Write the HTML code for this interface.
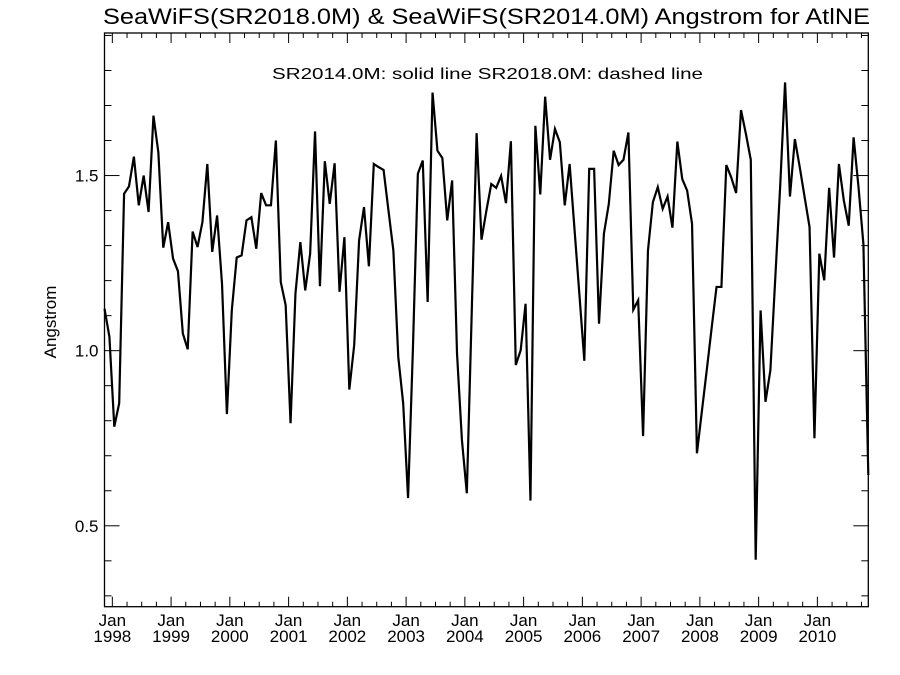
<!DOCTYPE html>
<html><head><meta charset="utf-8"><style>
html,body{margin:0;padding:0;background:#fff;}
svg{display:block;font-family:"Liberation Sans",sans-serif;}
</style></head><body>
<svg id="chart" width="900" height="675" viewBox="0 0 900 675" xmlns="http://www.w3.org/2000/svg">
<rect width="900" height="675" fill="#fff"/>
<text x="103" y="24" font-size="22" textLength="767" lengthAdjust="spacingAndGlyphs">SeaWiFS(SR2018.0M) &amp; SeaWiFS(SR2014.0M)  Angstrom for AtlNE</text>
<text x="272" y="79" font-size="16" textLength="431" lengthAdjust="spacingAndGlyphs">SR2014.0M: solid line   SR2018.0M: dashed line</text>
<text transform="translate(56,322) rotate(-90)" text-anchor="middle" font-size="17">Angstrom</text>
<g id="axes"></g>
<path id="line" fill="none" stroke="#000" stroke-width="2.2" stroke-linejoin="miter"/>
<rect x="104.5" y="33" width="763.8" height="573.7" fill="none" stroke="#000" stroke-width="1.3"/>
</svg>
<script>
const values = [1.12,1.04,0.783,0.85,1.448,1.469,1.554,1.415,1.5,1.396,1.671,1.566,1.294,1.367,1.263,1.227,1.049,1.004,1.34,1.296,
1.367,1.533,1.282,1.386,1.191,0.819,1.115,1.266,1.272,1.372,1.381,1.291,1.45,1.415,1.415,1.6,1.196,1.13,0.793,1.163,
1.31,1.172,1.277,1.626,1.184,1.541,1.419,1.535,1.168,1.324,0.889,1.016,1.315,1.41,1.241,1.533,1.524,1.516,1.4,1.286,
0.982,0.85,0.579,1.01,1.505,1.543,1.139,1.737,1.571,1.55,1.372,1.486,0.992,0.745,0.593,1.107,1.621,1.317,1.4,1.476,
1.465,1.499,1.421,1.598,0.959,1.001,1.134,0.572,1.642,1.446,1.725,1.545,1.633,1.595,1.415,1.533,1.346,1.159,0.971,1.519,
1.519,1.077,1.334,1.419,1.571,1.53,1.545,1.623,1.117,1.144,0.756,1.286,1.424,1.467,1.405,1.44,1.351,1.597,1.49,1.457,
1.362,0.707,0.826,0.944,1.064,1.182,1.182,1.53,1.495,1.45,1.687,1.619,1.545,0.403,1.115,0.854,0.944,1.207,1.469,1.766,
1.44,1.604,1.524,1.438,1.353,0.75,1.277,1.201,1.465,1.266,1.533,1.429,1.357,1.609,1.467,1.305,0.645];
const years = ["1998","1999","2000","2001","2002","2003","2004","2005","2006","2007","2008","2009","2010"];
const yTickLabels = ["0.5","1.0","1.5"];
const yTickValues = [0.5,1.0,1.5];

const X0=104.5, X1=868.3, Y0=33, Y1=606.7;
const xMax=156, yMin=0.269, yMax=1.907;
function xs(i){return X0+(X1-X0)*i/xMax;}
function ys(v){return Y1-(Y1-Y0)*(v-yMin)/(yMax-yMin);}
const NS="http://www.w3.org/2000/svg";
const axes=document.getElementById('axes');
function ln(x1,y1,x2,y2,name){
  const l=document.createElementNS(NS,'line');
  l.setAttribute('x1',x1);l.setAttribute('y1',y1);l.setAttribute('x2',x2);l.setAttribute('y2',y2);
  l.setAttribute('stroke','#000');l.setAttribute('stroke-width','1');
  
  
  axes.appendChild(l);
}
function tx(x,y,s,anchor,name){
  const t=document.createElementNS(NS,'text');
  t.setAttribute('x',x);t.setAttribute('y',y);t.setAttribute('font-size','17');
  t.setAttribute('text-anchor',anchor);t.textContent=s;
  
  
  axes.appendChild(t);
}
// x ticks: Jan of each year, minor every 3 months
for(let k=0;k<years.length;k++){
  for(let q=0;q<4;q++){
    const idx=12*k+1.6+3*q;
    if(idx>xMax) break;
    const x=xs(idx);
    const len=q===0?10:5;
    ln(x,Y1,x,Y1-len,'x-tick');
    ln(x,Y0,x,Y0+len,'x-tick-top');
  }
  const x=xs(12*k+1.6);
  tx(x,626,"Jan",'middle','x-tick-month-label');
  tx(x,642,years[k],'middle','x-tick-year-label');
}
// y ticks: minor every 0.1
for(let v=0.3;v<=1.9001;v+=0.1){
  const y=ys(v);
  const major=Math.abs(v*2-Math.round(v*2))<1e-6;
  const len=major?15:7;
  ln(X0,y,X0+len,y,'y-tick');
  ln(X1,y,X1-len,y,'y-tick-right');
}
for(let i=0;i<yTickValues.length;i++){
  tx(X0-6,ys(yTickValues[i])+6,yTickLabels[i],'end','y-tick-label');
}
let d='';
values.forEach((v,i)=>{d+=(i?'L':'M')+xs(i).toFixed(2)+','+ys(v).toFixed(2);});
document.getElementById('line').setAttribute('d',d);
</script>
</body></html>
